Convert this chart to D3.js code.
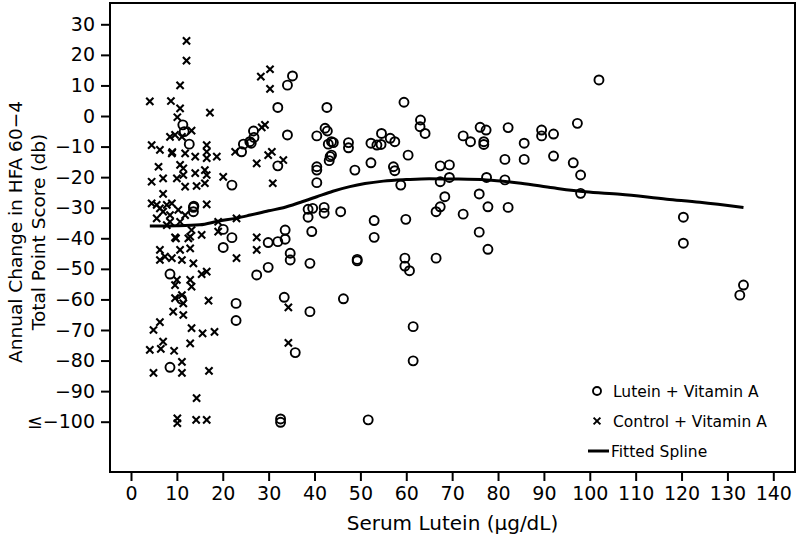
<!DOCTYPE html>
<html><head><meta charset="utf-8">
<script src="https://cdn.jsdelivr.net/npm/d3@7"></script>
<style>body{margin:0;background:#fff}svg{display:block;font-family:"DejaVu Sans",sans-serif}</style>
</head><body><svg id="c" width="800" height="539"></svg>
<script>
// Lutein + Vitamin A group: [serum lutein, annual change]
const luteinPts = [
[11.3,-2.9],[11.6,-5.1],[12.7,-9.2],[24.1,-11.7],[24.5,-9.2],[25.9,-8.4],[26.7,-4.9],[26.8,-7.0],
[22.0,-22.6],[13.6,-29.9],[13.7,-29.5],[13.6,-31.3],[20.1,-37.1],[22.0,-39.8],[20.1,-43.0],
[8.5,-51.7],[27.4,-52.0],[22.9,-61.3],[22.9,-66.9],[8.5,-82.2],
[35.2,13.1],[34.1,10.1],[32.0,2.8],[42.7,2.8],[59.5,4.5],[63.1,-1.3],[63.0,-3.5],[64.1,-5.7],
[26.2,-8.9],[34.1,-6.2],[40.5,-6.5],[42.3,-4.0],[42.8,-4.9],[43.0,-9.2],[43.7,-8.4],[44.1,-8.7],
[43.4,-13.3],[43.7,-12.8],[47.4,-8.7],[47.4,-10.4],[52.3,-8.9],[53.6,-9.5],[54.5,-9.3],[54.6,-5.7],
[56.5,-7.3],[57.5,-8.4],[60.4,-12.8],[52.3,-15.3],[48.8,-17.7],[40.5,-16.6],[32.0,-16.3],[57.2,-16.6],
[40.5,-17.7],[43.2,-14.6],[57.5,-17.9],[40.5,-21.8],[58.8,-22.6],
[38.6,-30.5],[39.6,-30.2],[42.1,-29.9],[42.1,-31.8],[38.6,-33.1],[45.7,-31.3],[53.0,-34.2],[59.9,-33.8],
[33.6,-37.3],[33.6,-40.3],[39.4,-37.8],[53.0,-39.7],[29.9,-41.4],[32.0,-41.1],[34.7,-44.9],[34.7,-47.1],
[39.0,-48.2],[49.3,-46.9],[49.3,-47.4],[59.7,-46.5],[59.7,-49.1],[60.7,-50.6],[29.9,-49.5],
[33.4,-59.3],[39.0,-64.0],[46.3,-59.8],[61.5,-68.9],[35.8,-77.4],[32.6,-99.1],[32.6,-100.2],[51.7,-99.4],
[61.5,-80.1],[102.0,11.8],[72.4,-6.5],[74.0,-8.4],[76.1,-3.7],[77.4,-4.6],[76.9,-8.4],[76.9,-9.3],
[82.2,-3.8],[85.7,-8.9],[89.5,-4.6],[89.5,-6.5],[92.1,-5.9],[97.3,-2.4],[67.4,-16.3],[69.4,-16.0],
[81.5,-14.2],[85.7,-14.2],[92.1,-13.1],[96.4,-15.3],[69.4,-20.1],[67.4,-21.5],[77.5,-20.1],[81.5,-20.9],
[98.0,-19.3],[98.0,-25.3],[68.4,-26.4],[67.4,-29.7],[66.5,-31.3],[72.4,-32.1],[75.9,-25.5],[77.8,-29.7],
[82.2,-29.9],[75.9,-38.0],[77.8,-43.6],[66.5,-46.5],[120.4,-33.1],[120.4,-41.6],[133.5,-55.3],[132.7,-58.6],
[11.0,-59.9]
];
// Control + Vitamin A group
const controlPts = [
[12.1,24.6],[12.1,18.1],[10.7,10.0],[4.1,4.8],[8.7,4.9],[10.7,2.5],[17.2,1.1],[10.1,-0.4],
[13.2,-4.8],[8.5,-6.8],[9.6,-6.2],[11.1,-6.8],[4.5,-9.5],[6.3,-11.1],[8.9,-12.2],[9.0,-11.8],
[11.8,-12.2],[14.0,-13.3],[16.5,-9.5],[16.5,-11.7],[18.7,-13.3],[22.7,-11.7],[28.3,12.9],[30.3,15.3],
[30.3,8.9],[29.2,-2.9],[28.5,-3.7],[27.4,-15.5],[29.9,-12.8],[30.7,-11.7],[33.2,-14.4],[16.5,-13.8],
[6.0,-16.6],[10.7,-16.0],[11.4,-17.1],[4.5,-21.5],[7.0,-20.4],[10.0,-20.4],[11.4,-19.3],[14.0,-18.7],
[16.1,-17.7],[16.5,-19.3],[11.8,-23.1],[14.3,-22.9],[16.1,-22.0],[20.1,-19.9],[7.0,-25.5],[4.5,-28.6],
[5.6,-29.1],[6.3,-30.2],[7.8,-29.1],[8.9,-28.6],[7.0,-31.3],[5.6,-33.5],[8.5,-32.4],[10.3,-30.7],
[11.8,-32.4],[8.5,-34.6],[10.7,-34.6],[16.5,-28.9],[7.8,-35.7],[13.2,-37.3],[12.9,-39.5],[15.4,-38.9],
[19.0,-34.6],[23.0,-33.5],[19.0,-37.8],[9.6,-39.7],[9.8,-40.0],[12.5,-40.0],[27.4,-39.7],[27.4,-43.8],
[6.3,-43.8],[10.7,-43.8],[12.9,-43.3],[7.4,-46.0],[6.3,-47.1],[8.9,-46.5],[11.1,-47.1],[13.6,-48.2],
[23.0,-46.5],[10.0,-53.6],[12.9,-53.6],[9.6,-55.3],[13.2,-55.8],[15.4,-51.7],[16.5,-50.9],[11.1,-58.6],
[9.6,-59.6],[11.4,-61.3],[9.2,-64.0],[11.4,-65.1],[16.9,-60.4],[6.3,-67.4],[4.9,-70.0],[13.2,-69.4],
[15.6,-71.1],[18.2,-70.6],[7.0,-73.8],[12.9,-74.4],[4.1,-76.5],[6.5,-76.2],[9.4,-76.8],[11.1,-80.4],
[4.9,-84.0],[11.1,-84.0],[17.0,-83.4],[14.3,-92.3],[10.1,-98.9],[10.1,-100.5],[14.2,-99.4],[16.5,-99.4],
[34.3,-74.2],[34.3,-62.6],[30.9,-22.0]
];
// Fitted spline
const splineX = [4.1,10,15,19,23,26,30,33.2,37,40.5,44,47.7,51,55,60,65,70,77.5,85,92,99,106.6,116.8,124,133.5];
const splineY = [-36.0,-35.9,-35.6,-34.4,-33.4,-32.4,-31.0,-30.0,-28.2,-26.4,-24.6,-23.1,-22.1,-21.3,-20.8,-20.5,-20.6,-20.9,-22.0,-23.5,-24.8,-25.6,-27.2,-28.2,-29.9];
const xTicks = d3.range(0,141,10);
const yTicks = [30,20,10,0,-10,-20,-30,-40,-50,-60,-70,-80,-90,-100];
const yTickLabel = v => v === -100 ? "≤−100" : (v < 0 ? "−" + Math.abs(v) : String(v));
const legendItems = ["Lutein + Vitamin A","Control + Vitamin A","Fitted Spline"];

const svg = d3.select("#c");
const frame = {l:110, r:795, t:3, b:472};
const x = d3.scaleLinear().domain([0,140]).range([131,773.3]);
const y = d3.scaleLinear().domain([-100,30]).range([421.7,24.3]);

// axes
const xAxis = d3.axisBottom(x).tickValues(xTicks).tickSize(9).tickPadding(6).tickFormat(d3.format("d"));
const gx = svg.append("g").attr("transform",`translate(0,${frame.b})`).call(xAxis);
const yAxis = d3.axisLeft(y).tickValues(yTicks).tickSize(9).tickPadding(6).tickFormat(yTickLabel);
const gy = svg.append("g").attr("transform",`translate(${frame.l},0)`).call(yAxis);
[gx,gy].forEach(g=>{
  g.select(".domain").remove();
  g.selectAll(".tick line").attr("stroke","#000").attr("stroke-width",2);
  g.selectAll(".tick text").attr("fill","#000").style("font-size","19px").style("font-family","DejaVu Sans");
});

svg.append("rect").attr("x",frame.l).attr("y",frame.t).attr("width",frame.r-frame.l).attr("height",frame.b-frame.t)
  .attr("fill","none").attr("stroke","#000").attr("stroke-width",2);

// spline
const line = d3.line().x((d,i)=>x(splineX[i])).y((d,i)=>y(splineY[i])).curve(d3.curveMonotoneX);
svg.append("path").datum(splineX).attr("d",line).attr("fill","none").attr("stroke","#000").attr("stroke-width",3);

// points
svg.append("g").selectAll("circle").data(luteinPts).join("circle")
  .attr("cx",d=>x(d[0])).attr("cy",d=>y(d[1])).attr("r",4.5)
  .attr("fill","none").attr("stroke","#000").attr("stroke-width",1.9);
const s = 3.6;
svg.append("g").selectAll("path").data(controlPts).join("path")
  .attr("d",d=>{const cx=x(d[0]),cy=y(d[1]);return `M${cx-s},${cy-s}L${cx+s},${cy+s}M${cx-s},${cy+s}L${cx+s},${cy-s}`;})
  .attr("stroke","#000").attr("stroke-width",2.1).attr("fill","none");

// titles
svg.append("text").attr("x",452.5).attr("y",530).attr("text-anchor","middle").style("font-size","20px").text("Serum Lutein (µg/dL)");
const yt = svg.append("text").attr("transform","translate(0,232) rotate(-90)").attr("text-anchor","middle").style("font-size","18.5px");
yt.append("tspan").attr("x",0).attr("y",22).text("Annual Change in HFA 60−4");
yt.append("tspan").attr("x",0).attr("y",45).text("Total Point Score (db)");

// legend
const lg = svg.append("g");
const rowsY = [391,421,451];
lg.append("circle").attr("cx",597).attr("cy",rowsY[0]).attr("r",4).attr("fill","none").attr("stroke","#000").attr("stroke-width",1.9);
lg.append("path").attr("d",`M${597-3.4},${rowsY[1]-3.4}L${597+3.4},${rowsY[1]+3.4}M${597-3.4},${rowsY[1]+3.4}L${597+3.4},${rowsY[1]-3.4}`).attr("stroke","#000").attr("stroke-width",2);
lg.append("line").attr("x1",588).attr("x2",609).attr("y1",rowsY[2]).attr("y2",rowsY[2]).attr("stroke","#000").attr("stroke-width",3);
legendItems.forEach((t,i)=>{
  lg.append("text").attr("x",i===2?611:613).attr("y",rowsY[i]).attr("dy","0.36em").style("font-size","15.5px").text(t);
});
</script></body></html>
